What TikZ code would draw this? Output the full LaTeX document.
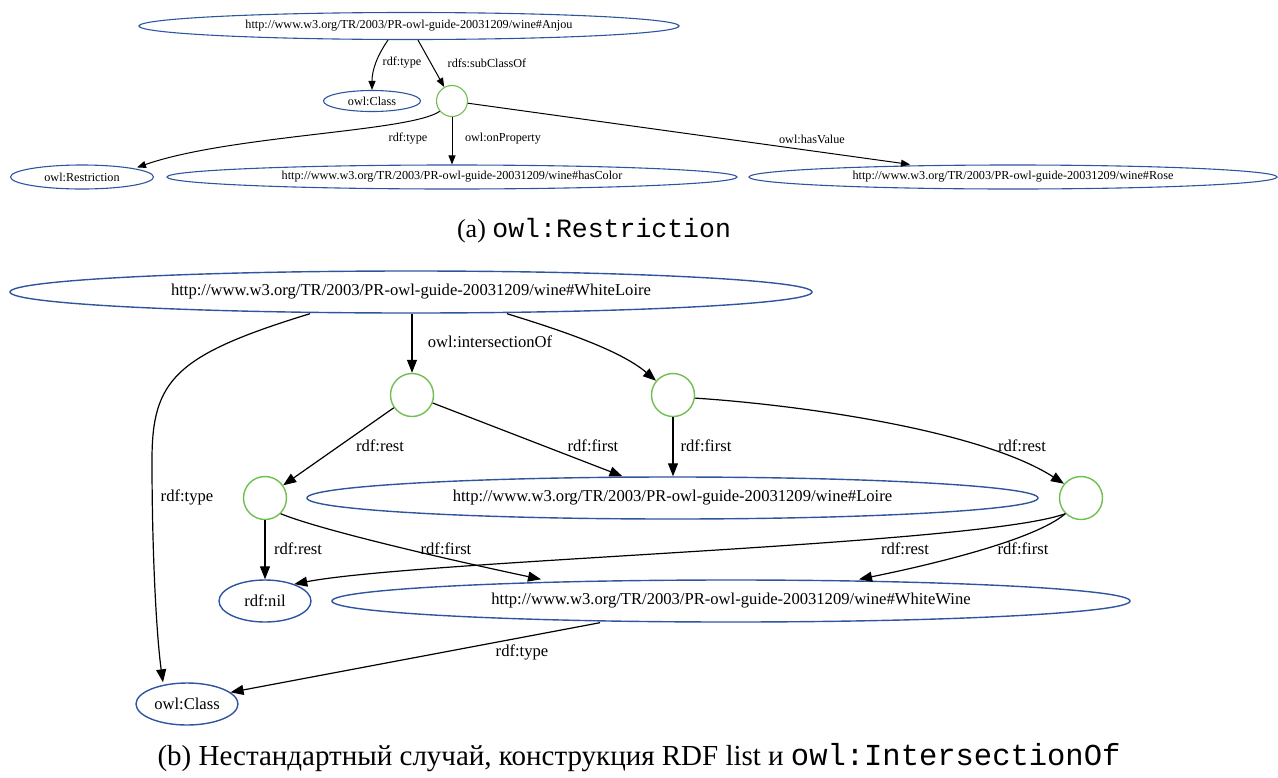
\documentclass[tikz,border=0pt]{standalone}
\usepackage{fontspec}
\setmainfont{Liberation Serif}
\setmonofont{Liberation Mono}
\usetikzlibrary{shapes.geometric,arrows.meta,calc}
\definecolor{nodeblue}{RGB}{47,84,160}
\definecolor{nodegreen}{RGB}{112,190,80}
\begin{document}
\begin{tikzpicture}[x=1pt,y=-1pt,
  fA/.style={font=\fontsize{12.2}{14}\selectfont},
  fB/.style={font=\fontsize{16.6}{19}\selectfont},
  uriA/.style={ellipse, draw=nodeblue, line width=1.1pt, inner sep=0pt, fA},
  uriB/.style={ellipse, draw=nodeblue, line width=1.4pt, inner sep=0pt, fB},
  blankA/.style={circle, draw=nodegreen, line width=1.1pt, minimum size=31pt, inner sep=0pt},
  blankB/.style={circle, draw=nodegreen, line width=1.4pt, minimum size=43pt, inner sep=0pt},
  connA/.style={draw=black, line width=1pt, -{Triangle[length=9pt,width=7pt]}},
  connB/.style={draw=black, line width=1.2pt, -{Triangle[length=13pt,width=10pt]}},
  lblA/.style={fA, inner sep=0pt},
  lblB/.style={fB, inner sep=0pt},
  capA/.style={font=\fontsize{26}{30}\selectfont, inner sep=0pt},
  capB/.style={font=\fontsize{29}{33}\selectfont, inner sep=0pt},
]
\useasboundingbox (0,0) rectangle (1278,777);

% ---------- (a) ----------
\node[uriA, minimum width=540pt, minimum height=27pt] (a-anjou) at (409,26) {http://www.w3.org/TR/2003/PR-owl-guide-20031209/wine\#Anjou};
\node[uriA, minimum width=97pt, minimum height=21pt] (a-class) at (372,101) {owl:Class};
\node[blankA] (a-c) at (452,101) {};
\node[uriA, minimum width=143pt, minimum height=24pt] (a-restr) at (82,177) {owl:Restriction};
\node[uriA, minimum width=570pt, minimum height=24pt] (a-color) at (452,177) {http://www.w3.org/TR/2003/PR-owl-guide-20031209/wine\#hasColor};
\node[uriA, minimum width=528pt, minimum height=24pt] (a-rose) at (1013,177) {http://www.w3.org/TR/2003/PR-owl-guide-20031209/wine\#Rose};

\draw[connA] ([xshift=-21pt]a-anjou.south) .. controls (377,56) and (372,70) .. (a-class.north);
\draw[connA] ([xshift=9pt]a-anjou.south) -- (a-c);
\draw[connA] (a-c.220) .. controls (410,132) and (230,135) .. ([xshift=55pt,yshift=-3pt]a-restr.north);
\draw[connA] (a-c) -- (a-c |- a-color.north);
\draw[connA] (a-c) -- ([xshift=-103pt]a-rose.north);

\node[lblA] (la1) at (402,63) {rdf:type};
\node[lblA] (la2) at (487,63) {rdfs:subClassOf};
\node[lblA] (la3) at (408,139) {rdf:type};
\node[lblA] (la4) at (503,139) {owl:onProperty};
\node[lblA] (la5) at (812,139) {owl:hasValue};

\node[capA] (capa) at (594,231) {(a) {\fontsize{26.5}{30}\selectfont\ttfamily owl:Restriction}};

% ---------- (b) ----------
\node[uriB, minimum width=802pt, minimum height=42pt] (b-wl) at (411,292) {http://www.w3.org/TR/2003/PR-owl-guide-20031209/wine\#WhiteLoire};
\node[blankB] (b-c1) at (412,395) {};
\node[blankB] (b-c2) at (673,395) {};
\node[blankB] (b-c3) at (265,498) {};
\node[uriB, minimum width=731pt, minimum height=42pt] (b-loire) at (672.5,498) {http://www.w3.org/TR/2003/PR-owl-guide-20031209/wine\#Loire};
\node[blankB] (b-c4) at (1081,498) {};
\node[uriB, minimum width=92pt, minimum height=42pt] (b-nil) at (265,601) {rdf:nil};
\node[uriB, minimum width=798pt, minimum height=42pt] (b-ww) at (731,601) {http://www.w3.org/TR/2003/PR-owl-guide-20031209/wine\#WhiteWine};
\node[uriB, minimum width=102pt, minimum height=42pt] (b-class) at (187,704) {owl:Class};

\draw[connB] ([xshift=-101pt]b-wl.south) .. controls (175,355) and (152,380) .. (152,460) .. controls (152,560) and (157,640) .. ([xshift=-24pt]b-class.north);
\draw[connB] (b-c1 |- b-wl.south) -- (b-c1);
\draw[connB] ([xshift=96pt]b-wl.south) .. controls (560,330) and (620,350) .. (b-c2.140);
\draw[connB] (b-c1) -- (b-c3);
\draw[connB] (b-c1) -- ([xshift=-50pt]b-loire.north);
\draw[connB] (b-c2) -- (b-c2 |- b-loire.north);
\draw[connB] (b-c2.-8) .. controls (800,405) and (980,430) .. (b-c4.140);
\draw[connB] (b-c3) -- (b-nil);
\draw[connB] (b-c3.-45) .. controls (320,530) and (450,560) .. ([xshift=-190pt]b-ww.north);
\draw[connB] (b-c4.225) .. controls (980,545) and (420,560) .. (b-nil.30);
\draw[connB] (b-c4.225) .. controls (1035,540) and (930,565) .. ([xshift=128pt]b-ww.north);
\draw[connB] ([xshift=-131pt]b-ww.south) -- (b-class.15);

\node[lblB] (lb1) at (187,497) {rdf:type};
\node[lblB] (lb2) at (490,342) {owl:intersectionOf};
\node[lblB] (lb3) at (380,446) {rdf:rest};
\node[lblB] (lb4) at (593,446) {rdf:first};
\node[lblB] (lb5) at (706,446) {rdf:first};
\node[lblB] (lb6) at (1022,446) {rdf:rest};
\node[lblB] (lb7) at (298,549) {rdf:rest};
\node[lblB] (lb8) at (446,549) {rdf:first};
\node[lblB] (lb9) at (905,549) {rdf:rest};
\node[lblB] (lb10) at (1023,549) {rdf:first};
\node[lblB] (lb11) at (522,652) {rdf:type};

\node[capB] (capb) at (639,758) {(b) Нестандартный случай, конструкция RDF list и {\fontsize{30.5}{33}\selectfont\ttfamily owl:IntersectionOf}};
\end{tikzpicture}
\end{document}
